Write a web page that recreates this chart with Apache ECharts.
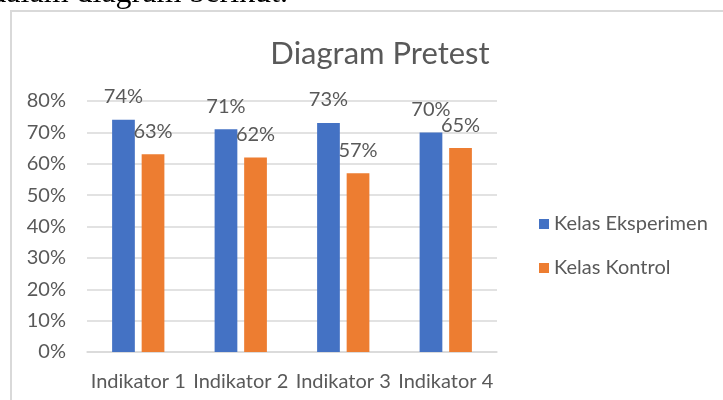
<!DOCTYPE html>
<html><head><meta charset="utf-8">
<script src="https://cdn.jsdelivr.net/npm/echarts@6/dist/echarts.min.js"></script>
<style>html,body{margin:0;padding:0;background:#fff;}#c{width:723px;height:400px;}</style>
</head><body><div id="c"></div>
<script>
const categories = ['Indikator 1', 'Indikator 2', 'Indikator 3', 'Indikator 4'];
const seriesNames = ['Kelas Eksperimen', 'Kelas Kontrol'];
const eksperimen = [74, 71, 73, 70];
const kontrol = [63, 62, 57, 65];
const yTicks = [0, 10, 20, 30, 40, 50, 60, 70, 80];
const titleText = 'Diagram Pretest';
const topText = 'dalam diagram berikut.';

const font = 'Lato, "Noto Sans", sans-serif';
const chart = echarts.init(document.getElementById('c'), null, {renderer: 'canvas'});
const lbl = {show: true, position: 'top', distance: 13, color: '#595959', fontSize: 20, fontFamily: font, formatter: p => p.value + '%'};
chart.setOption({
  animation: false,
  graphic: [
    {type: 'rect', shape: {x: 11, y: 11, width: 800, height: 500}, style: {fill: '#fff', stroke: '#d9d9d9', lineWidth: 2}, z: -10},
    {type: 'text', x: 288, y: -6, style: {text: topText, font: '32px "Liberation Serif", serif', fill: '#000', align: 'right', verticalAlign: 'middle'}}
  ],
  title: {text: titleText, left: 375, top: 33, textAlign: 'center', textStyle: {color: '#595959', fontSize: 31, fontWeight: 'normal', fontFamily: font}},
  legend: {orient: 'vertical', left: 534, top: 209, itemWidth: 10, itemHeight: 10, itemGap: 24, icon: 'rect',
    textStyle: {color: '#595959', fontSize: 20, fontFamily: font}, data: seriesNames},
  grid: {left: 87, right: 226, top: 101, bottom: 48, containLabel: false},
  xAxis: {type: 'category', data: categories,
    axisLine: {lineStyle: {color: '#d9d9d9', width: 1.5}}, axisTick: {show: false},
    axisLabel: {color: '#595959', fontSize: 20, fontFamily: font, margin: 20, interval: 0}},
  yAxis: {type: 'value', min: 0, max: 80, interval: 10,
    axisLine: {show: false}, axisTick: {show: false},
    splitLine: {lineStyle: {color: '#d9d9d9', width: 1.5}},
    axisLabel: {color: '#595959', fontSize: 20, fontFamily: font, margin: 21, formatter: v => yTicks.includes(v) ? v + '%' : ''}},
  series: [
    {name: seriesNames[0], type: 'bar', data: eksperimen, itemStyle: {color: '#4472C4'}, barGap: '30%', barCategoryGap: '49%', label: lbl},
    {name: seriesNames[1], type: 'bar', data: kontrol, itemStyle: {color: '#ED7D31'}, label: lbl}
  ]
});
</script></body></html>
